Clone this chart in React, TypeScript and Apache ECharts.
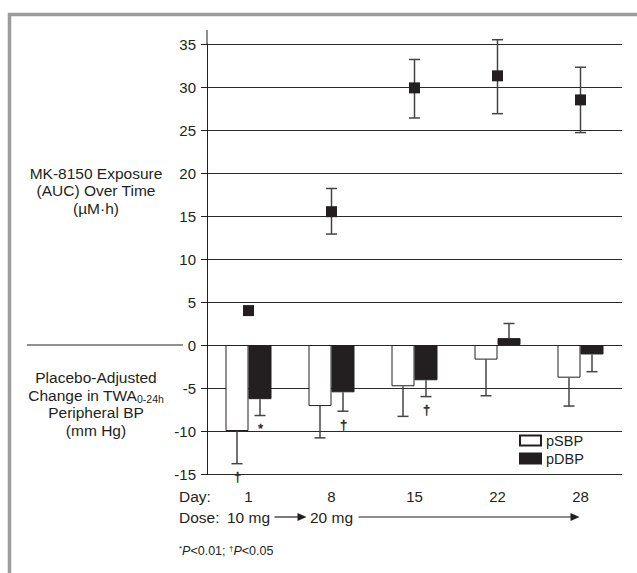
import React, { useEffect, useRef } from 'react';
import * as echarts from 'echarts';

// ---------- data ----------
const days = ['1', '8', '15', '22', '28'];
const yMin = -15;
const yMax = 35;
const yStep = 5;

const auc = [4.0, 15.5, 29.9, 31.3, 28.5];
const aucLow = [4.0, 12.9, 26.4, 26.9, 24.7];
const aucHigh = [4.0, 18.2, 33.2, 35.5, 32.3];

const psbp = [-10.0, -7.1, -4.8, -1.7, -3.8];
const psbpErrEnd = [-13.8, -10.8, -8.3, -5.9, -7.1];
const pdbp = [-6.3, -5.5, -4.1, 0.8, -1.1];
const pdbpErrEnd = [-8.2, -7.7, -6.0, 2.5, -3.1];

const psbpSig = ['†', '', '', '', ''];
const pdbpSig = ['*', '†', '†', '', ''];

// ---------- style ----------
const FONT = '"Liberation Sans", Arial, Helvetica, sans-serif';
const INK = '#231f20';
const ERR = '#444444';
const GRID_LEFT = 207;
const GRID_RIGHT = 15;
const GRID_TOP = 44;
const GRID_BOTTOM = 99;
const BAR_W = 23;
const CAP = 5.5;

function barErrRender(offset: number, sigs: string[]) {
  return (params: any, api: any) => {
    const i = params.dataIndex;
    const p1 = api.coord([api.value(0), api.value(1)]);
    const p2 = api.coord([api.value(0), api.value(2)]);
    const x = p1[0] + offset;
    const dir = p2[1] > p1[1] ? 1 : -1;
    const children: any[] = [
      { type: 'line', shape: { x1: x, y1: p1[1], x2: x, y2: p2[1] }, style: { stroke: ERR, lineWidth: 1.5 } },
      { type: 'line', shape: { x1: x - CAP, y1: p2[1], x2: x + CAP, y2: p2[1] }, style: { stroke: ERR, lineWidth: 1.5 } },
    ];
    if (sigs[i]) {
      children.push({
        type: 'text',
        x: Math.round(x) + 0.5,
        y: p2[1] + dir * 13,
        style: {
          text: sigs[i],
          align: 'center',
          verticalAlign: 'middle',
          fontSize: 13,
          fontFamily: FONT,
          fill: INK,
          stroke: INK,
          lineWidth: 0.4,
        },
      });
    }
    return { type: 'group', children };
  };
}

function aucErrRender(params: any, api: any) {
  const lo = api.value(1);
  const hi = api.value(2);
  if (lo === hi) return { type: 'group', children: [] };
  const p1 = api.coord([api.value(0), lo]);
  const p2 = api.coord([api.value(0), hi]);
  const x = p1[0];
  const st = { stroke: ERR, lineWidth: 1.5 };
  return {
    type: 'group',
    children: [
      { type: 'line', shape: { x1: x, y1: p1[1], x2: x, y2: p2[1] }, style: st },
      { type: 'line', shape: { x1: x - CAP, y1: p1[1], x2: x + CAP, y2: p1[1] }, style: st },
      { type: 'line', shape: { x1: x - CAP, y1: p2[1], x2: x + CAP, y2: p2[1] }, style: st },
    ],
  };
}

export default function App() {
  const ref = useRef<HTMLDivElement>(null);

  useEffect(() => {
    const chart = echarts.init(ref.current!, null, { renderer: 'svg' });
    const option: any = {
      animation: false,
      backgroundColor: '#ffffff',
      color: [INK],
      grid: { left: GRID_LEFT, right: GRID_RIGHT, top: GRID_TOP, bottom: GRID_BOTTOM },
      legend: {
        data: ['pSBP', 'pDBP'],
        orient: 'vertical',
        left: 519,
        top: 433,
        padding: 0,
        itemWidth: 21,
        itemHeight: 10,
        itemGap: 3,
        icon: 'rect',
        textStyle: { fontSize: 14.5, color: INK, fontFamily: FONT },
      },
      xAxis: {
        type: 'category',
        data: days,
        axisLine: { show: false, onZero: false },
        axisTick: { show: false },
        axisLabel: { margin: 15, fontSize: 15, color: INK, fontFamily: FONT },
        splitLine: { show: false },
      },
      yAxis: {
        type: 'value',
        min: yMin,
        max: yMax,
        interval: yStep,
        axisLine: { show: true, lineStyle: { color: INK, width: 1 } },
        axisTick: { show: true, length: 6, lineStyle: { color: INK, width: 1 } },
        axisLabel: { margin: 11, fontSize: 15, color: INK, fontFamily: FONT },
        splitLine: { show: true, lineStyle: { color: '#2a2a2a', width: 1 } },
      },
      series: [
        {
          name: 'pSBP',
          type: 'bar',
          data: psbp,
          barWidth: BAR_W,
          barGap: '0%',
          itemStyle: { color: '#ffffff', borderColor: INK, borderWidth: 1 },
          z: 2,
        },
        {
          name: 'pDBP',
          type: 'bar',
          data: pdbp,
          barWidth: BAR_W,
          barGap: '0%',
          itemStyle: { color: INK, borderColor: INK, borderWidth: 1 },
          z: 2,
        },
        {
          name: 'pSBP err',
          type: 'custom',
          data: days.map((_, i) => [i, psbp[i], psbpErrEnd[i]]),
          renderItem: barErrRender(-BAR_W / 2, psbpSig),
          itemStyle: { color: INK },
          z: 3,
        },
        {
          name: 'pDBP err',
          type: 'custom',
          data: days.map((_, i) => [i, pdbp[i], pdbpErrEnd[i]]),
          renderItem: barErrRender(BAR_W / 2, pdbpSig),
          itemStyle: { color: INK },
          z: 3,
        },
        {
          name: 'AUC err',
          type: 'custom',
          data: days.map((_, i) => [i, aucLow[i], aucHigh[i]]),
          renderItem: aucErrRender,
          itemStyle: { color: INK },
          z: 3,
        },
        {
          name: 'AUC',
          type: 'scatter',
          data: auc,
          symbol: 'rect',
          symbolSize: 11,
          itemStyle: { color: INK, opacity: 1 },
          z: 5,
        },
      ],
    };
    chart.setOption(option);

    const cx = (i: number) => chart.convertToPixel({ xAxisIndex: 0 }, days[i]) as number;
    const cy = (v: number) => chart.convertToPixel({ yAxisIndex: 0 }, v) as number;

    const yTop = cy(yMax);
    const y0 = cy(0);
    const doseY = 517;
    const txt = (text: string, x: number, y: number, extra: any = {}) => ({
      type: 'text',
      x,
      y,
      style: { text, fontSize: 15.5, fontFamily: FONT, fill: INK, align: 'left', verticalAlign: 'middle', ...extra },
    });
    const arrow = (x1: number, tip: number, y: number) => [
      { type: 'line', shape: { x1, y1: y, x2: tip - 6, y2: y }, style: { stroke: INK, lineWidth: 1.2 } },
      {
        type: 'polygon',
        shape: { points: [[tip - 9, y - 4], [tip, y], [tip - 9, y + 4]] },
        style: { fill: INK },
      },
    ];

    chart.setOption({
      graphic: [
        {
          type: 'rect',
          shape: { x: 9.5, y: 14.5, width: 660, height: 600 },
          style: { fill: 'none', stroke: '#9c9c9c', lineWidth: 3.5 },
          silent: true,
        },
        { type: 'line', shape: { x1: GRID_LEFT, y1: yTop - 14, x2: GRID_LEFT, y2: yTop }, style: { stroke: INK, lineWidth: 1 } },
        { type: 'line', shape: { x1: 27, y1: y0, x2: 183, y2: y0 }, style: { stroke: INK, lineWidth: 1 } },
        txt('MK-8150 Exposure\n(AUC) Over Time\n(µM·h)', 96, 190.5, { align: 'center', lineHeight: 17.5 }),
        txt('Placebo-Adjusted', 96, 377, { align: 'center' }),
        {
          type: 'text',
          x: 96,
          y: 395,
          style: {
            text: '{a|Change in TWA}{b|0-24h}',
            align: 'center',
            verticalAlign: 'middle',
            rich: {
              a: { fontSize: 15.5, fontFamily: FONT, fill: INK, lineHeight: 18, color: INK },
              b: { fontSize: 10.5, fontFamily: FONT, fill: INK, lineHeight: 10, verticalAlign: 'bottom', color: INK },
            },
          },
        },
        txt('Peripheral BP', 96, 412.5, { align: 'center' }),
        txt('(mm Hg)', 96, 430, { align: 'center' }),
        txt('Day:', 179, 496),
        txt('Dose:', 179, doseY),
        txt('10 mg', cx(0), doseY, { align: 'center' }),
        ...arrow(cx(0) + 26, cx(1) - 25, doseY),
        txt('20 mg', cx(1), doseY, { align: 'center' }),
        ...arrow(cx(1) + 27, cx(4) - 1, doseY),
        {
          type: 'text',
          x: 179,
          y: 551,
          style: {
            text: '{s|*}{i|P}{n|<0.01; }{s|†}{i|P}{n|<0.05}',
            align: 'left',
            verticalAlign: 'middle',
            rich: {
              s: { fontSize: 8, fontFamily: FONT, fill: INK, color: INK, lineHeight: 14, verticalAlign: 'top' },
              i: { fontSize: 12.5, fontFamily: FONT, fontStyle: 'italic', fill: INK, color: INK, lineHeight: 14 },
              n: { fontSize: 12.5, fontFamily: FONT, fill: INK, color: INK, lineHeight: 14 },
            },
          },
        },
      ],
    });

    return () => chart.dispose();
  }, []);

  return <div ref={ref} style={{ position: 'fixed', left: 0, top: 0, width: 637, height: 573 }} />;
}
